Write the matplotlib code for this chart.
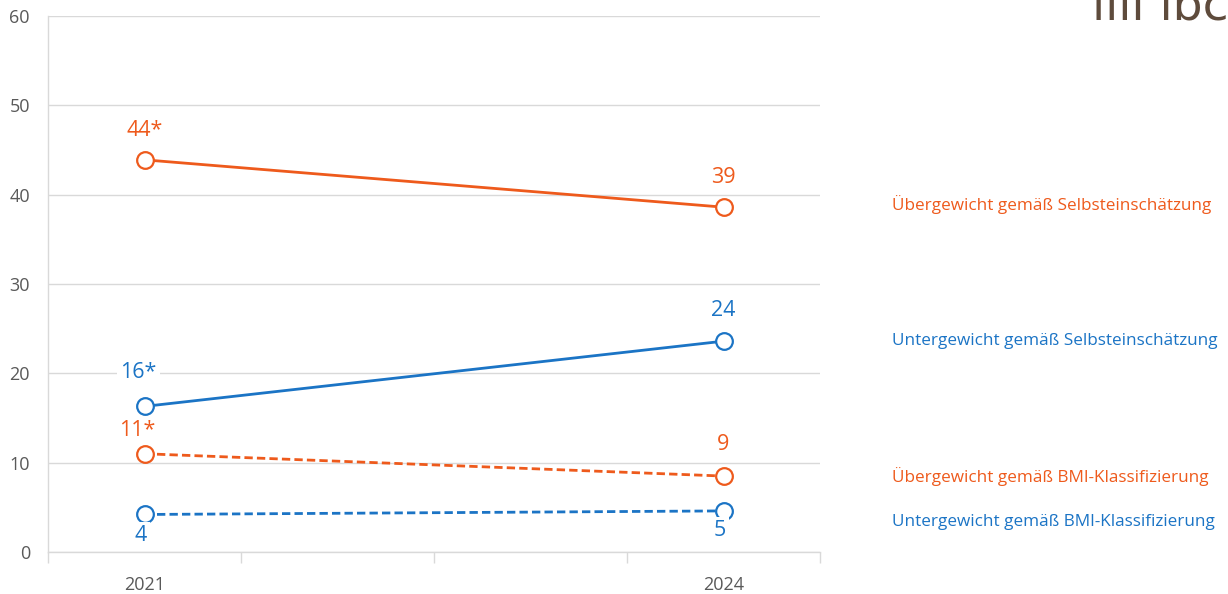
import matplotlib
matplotlib.use("Agg")
import matplotlib.pyplot as plt

plt.rcParams['font.family'] = ['Open Sans', 'DejaVu Sans']

categories = ["2021", "", "", "2024"]
point_idx = [0, 3]

series_names = [
    "Übergewicht gemäß Selbsteinschätzung",
    "Untergewicht gemäß Selbsteinschätzung",
    "Übergewicht gemäß BMI-Klassifizierung",
    "Untergewicht gemäß BMI-Klassifizierung",
]
ueber_selbst = [43.9, 38.6]
unter_selbst = [16.3, 23.6]
ueber_bmi = [11.0, 8.5]
unter_bmi = [4.2, 4.6]

ueber_selbst_labels = ["44*", "39"]
unter_selbst_labels = ["16*", "24"]
ueber_bmi_labels = ["11*", "9"]
unter_bmi_labels = ["4", "5"]

yticks = [0, 10, 20, 30, 40, 50, 60]

ORANGE = "#EE5A1C"
BLUE = "#1B74C5"
GRID = "#D9D9D9"
TXT = "#595959"

fig = plt.figure(figsize=(12.28, 5.94), dpi=100)
ax = fig.add_axes([48/1228, 1-552/594, (820-48)/1228, (552-16)/594])

xs = [i + 0.5 for i in point_idx]

series = [
    (ueber_selbst, ueber_selbst_labels, ORANGE, '-', [(0, 29), (0, 30)]),
    (unter_selbst, unter_selbst_labels, BLUE, '-', [(-6, 34), (0, 31)]),
    (ueber_bmi, ueber_bmi_labels, ORANGE, '--', [(-7, 23), (0, 32)]),
    (unter_bmi, unter_bmi_labels, BLUE, '--', [(-4, -21), (-4, -20)]),
]
label_y = [38.9, 23.6, 8.5, 3.4]

for (vals, labs, col, ls, offs), name, ly in zip(series, series_names, label_y):
    ax.plot(xs, vals, color=col, linestyle=ls, linewidth=2.0,
            dashes=(3, 1.5) if ls == '--' else (None, None),
            marker='o', markersize=12, markerfacecolor='white',
            markeredgecolor=col, markeredgewidth=1.6, zorder=3)
    for x, v, lab, off in zip(xs, vals, labs, offs):
        ax.annotate(lab, (x, v), xytext=off, textcoords='offset pixels',
                    ha='center', va='center', fontsize=15.5, color=col,
                    bbox=dict(boxstyle='square,pad=0.15', fc='white', ec='none'),
                    zorder=4)
    ax.annotate(name, (1.0, ly), xycoords=('axes fraction', 'data'),
                xytext=(72, 0), textcoords='offset pixels',
                ha='left', va='center', fontsize=12.3, color=col,
                annotation_clip=False)

ax.set_xlim(0, len(categories))
ax.set_ylim(0, 60)
ax.set_yticks(yticks)
ax.set_yticklabels([str(t) for t in yticks])
ax.tick_params(axis='y', length=0, pad=13, labelsize=13, labelcolor=TXT)
ax.yaxis.grid(True, color=GRID, linewidth=1.0)
ax.set_axisbelow(True)

ax.set_xticks(range(len(categories) + 1))
ax.set_xticklabels([])
ax.tick_params(axis='x', which='major', length=8, color=GRID, width=1.0, direction='out')
ax.set_xticks([i + 0.5 for i in range(len(categories))], minor=True)
ax.set_xticklabels(categories, minor=True)
ax.tick_params(axis='x', which='minor', length=0, pad=17, labelsize=13, labelcolor=TXT)

for s in ['top', 'right']:
    ax.spines[s].set_visible(False)
for s in ['left', 'bottom']:
    ax.spines[s].set_color(GRID)
    ax.spines[s].set_linewidth(1.0)

fig.text(1092/1228, 1-20/594, "\u0131\u0131\u0131\u0131 \u0131bc", fontsize=34,
         family=['DejaVu Sans'], color="#5E4B3C",
         ha='left', va='baseline')

fig.savefig("out.png", dpi=100, facecolor='white')
